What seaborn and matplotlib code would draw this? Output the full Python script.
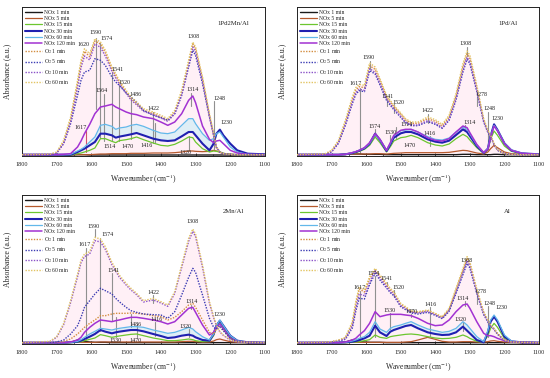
import matplotlib
matplotlib.use("Agg")
import matplotlib.pyplot as plt
import seaborn as sns
import pandas as pd
from matplotlib.ticker import MultipleLocator
from matplotlib.lines import Line2D

# ---------------- data (absorbance, a.u. x1000) ----------------
WN = [1800, 1720, 1700, 1680, 1660, 1640, 1630, 1620, 1605, 1590, 1574, 1560, 1541, 1530, 1520, 1500, 1486,
      1470, 1450, 1422, 1400, 1380, 1360, 1340, 1320, 1308, 1300, 1280, 1260, 1248, 1240, 1230, 1220, 1200,
      1180, 1150, 1100]

SERIES = ["NOx 1 min", "NOx 5 min", "NOx 15 min", "NOx 30 min", "NOx 60 min", "NOx 120 min",
          "O$_2$ 1 min", "O$_2$ 5 min", "O$_2$ 10 min", "O$_2$ 60 min"]
PANELS = ["1Pd2Mn/Al", "1Pd/Al", "2Mn/Al", "Al"]

# Panel 1: 1Pd2Mn/Al
p1_nox1 = [3, 3, 3, 3, 3, 4, 4, 4, 3, 3, 3, 3, 3, 3, 3, 3, 3, 3, 3, 3, 3, 3, 3, 3, 3, 3, 3, 3, 3, 3, 3, 3, 3, 3, 3, 3, 3]
p1_nox5 = [4, 4, 4, 4, 4, 4, 4, 4, 4, 5, 6, 6, 7, 7, 7, 7, 8, 8, 8, 9, 9, 9, 10, 12, 15, 15, 14, 13, 14, 17, 15, 12, 8, 5, 4, 4, 4]
p1_nox15 = [4, 4, 4, 4, 3, 7, 9, 12, 17, 24, 52, 52, 44, 40, 46, 49, 52, 57, 49, 39, 32, 30, 35, 45, 57, 55, 42, 22, 12, 15, 14, 12, 8, 5, 4, 4, 4]
p1_nox30 = [4, 4, 4, 4, 4, 12, 17, 22, 32, 42, 67, 67, 62, 55, 58, 62, 65, 69, 62, 52, 47, 45, 47, 59, 72, 72, 62, 37, 17, 37, 67, 79, 62, 37, 17, 7, 5]
p1_nox60 = [4, 4, 4, 4, 5, 15, 20, 27, 42, 57, 92, 95, 89, 80, 84, 87, 92, 95, 89, 77, 69, 67, 72, 92, 112, 112, 97, 67, 47, 52, 67, 72, 57, 27, 12, 5, 4]
p1_nox120 = [4, 4, 4, 5, 7, 27, 45, 67, 95, 127, 147, 150, 155, 147, 142, 132, 127, 124, 117, 112, 102, 92, 102, 127, 167, 180, 160, 90, 50, 40, 45, 47, 37, 17, 9, 5, 4]
p1_o2_1 = [4, 5, 10, 42, 110, 218, 278, 314, 298, 345, 336, 310, 262, 242, 222, 192, 172, 157, 137, 127, 117, 107, 131, 191, 280, 336, 321, 231, 122, 64, 26, 11, 7, 5, 4, 4, 4]
p1_o2_5 = [4, 4, 9, 37, 97, 182, 227, 252, 257, 292, 287, 272, 237, 222, 212, 189, 177, 162, 137, 122, 115, 107, 127, 182, 267, 317, 302, 217, 117, 62, 27, 12, 7, 5, 4, 4, 4]
p1_o2_10 = [4, 5, 9, 38, 102, 205, 265, 300, 288, 336, 326, 300, 254, 234, 216, 188, 168, 154, 134, 124, 114, 104, 127, 185, 272, 327, 312, 224, 118, 62, 25, 11, 7, 5, 4, 4, 4]
p1_o2_60 = [4, 5, 12, 47, 117, 227, 287, 322, 307, 352, 342, 317, 267, 247, 227, 197, 177, 162, 142, 132, 122, 112, 137, 197, 287, 342, 327, 237, 127, 67, 27, 12, 7, 5, 4, 4, 4]

# Panel 2: 1Pd/Al
p2_nox1 = [4, 4, 4, 4, 5, 6, 6, 6, 5, 5, 5, 5, 4, 4, 4, 4, 4, 4, 4, 4, 4, 4, 4, 4, 5, 5, 5, 4, 4, 4, 4, 5, 5, 4, 4, 4, 4]
p2_nox5 = [4, 4, 4, 4, 5, 6, 6, 6, 6, 6, 7, 7, 6, 7, 8, 9, 10, 10, 10, 10, 10, 10, 11, 14, 17, 16, 14, 9, 6, 12, 22, 32, 25, 12, 7, 5, 4]
p2_nox15 = [4, 4, 4, 4, 4, 8, 10, 14, 20, 32, 57, 40, 12, 28, 45, 55, 57, 62, 55, 40, 33, 30, 36, 52, 65, 58, 48, 25, 8, 18, 50, 75, 62, 30, 14, 7, 5]
p2_nox30 = [4, 4, 4, 4, 5, 9, 12, 16, 23, 37, 67, 48, 15, 35, 55, 68, 72, 72, 65, 50, 43, 40, 46, 63, 80, 72, 60, 30, 9, 22, 60, 95, 78, 38, 17, 8, 5]
p2_nox60 = [4, 4, 4, 4, 5, 10, 13, 17, 24, 38, 65, 48, 17, 38, 60, 76, 78, 80, 72, 58, 50, 48, 54, 72, 87, 80, 66, 33, 10, 22, 58, 92, 77, 38, 18, 8, 5]
p2_nox120 = [4, 4, 4, 4, 5, 10, 13, 17, 25, 40, 67, 50, 17, 40, 62, 77, 80, 80, 72, 55, 47, 45, 52, 72, 90, 85, 70, 35, 10, 20, 55, 90, 75, 37, 17, 8, 5]
p2_o2_1 = [4, 6, 15, 44, 102, 170, 198, 208, 205, 271, 260, 225, 177, 162, 148, 125, 108, 98, 98, 112, 104, 90, 117, 180, 268, 306, 293, 205, 108, 74, 60, 36, 18, 7, 5, 4, 4]
p2_o2_5 = [4, 5, 12, 38, 92, 157, 185, 196, 193, 256, 246, 213, 167, 152, 139, 116, 100, 91, 91, 103, 95, 83, 107, 168, 252, 290, 277, 194, 102, 71, 57, 34, 17, 7, 5, 4, 4]
p2_o2_10 = [4, 5, 13, 40, 96, 162, 190, 200, 197, 262, 251, 218, 171, 156, 142, 119, 102, 93, 93, 106, 98, 85, 110, 172, 258, 296, 283, 198, 104, 72, 58, 35, 18, 7, 5, 4, 4]
p2_o2_60 = [4, 6, 17, 47, 107, 177, 205, 215, 212, 279, 267, 232, 182, 167, 152, 129, 112, 102, 102, 117, 109, 95, 122, 187, 277, 315, 302, 212, 112, 77, 62, 37, 19, 7, 5, 4, 4]

# Panel 3: 2Mn/Al
p3_nox1 = [4, 4, 4, 4, 5, 12, 10, 8, 6, 5, 5, 5, 4, 4, 4, 4, 4, 4, 4, 4, 4, 4, 4, 4, 4, 4, 4, 4, 4, 4, 4, 4, 4, 4, 4, 4, 4]
p3_nox5 = [4, 4, 4, 4, 5, 5, 5, 5, 5, 5, 6, 6, 6, 6, 6, 6, 6, 6, 6, 6, 6, 6, 6, 7, 8, 8, 7, 6, 6, 9, 13, 15, 12, 7, 5, 4, 4]
p3_nox15 = [4, 4, 4, 4, 4, 5, 7, 10, 14, 18, 28, 25, 20, 22, 24, 27, 29, 30, 25, 18, 14, 10, 10, 12, 15, 13, 10, 7, 8, 25, 50, 62, 48, 20, 8, 5, 4]
p3_nox30 = [4, 4, 4, 4, 5, 7, 10, 15, 22, 30, 42, 37, 32, 35, 37, 40, 42, 42, 38, 30, 24, 18, 20, 25, 28, 25, 20, 12, 10, 30, 55, 70, 55, 25, 10, 5, 4]
p3_nox60 = [4, 4, 4, 4, 5, 8, 13, 20, 30, 38, 47, 45, 42, 45, 47, 50, 52, 52, 50, 42, 37, 32, 35, 42, 50, 45, 37, 22, 12, 30, 55, 72, 55, 25, 10, 5, 4]
p3_nox120 = [4, 4, 4, 4, 6, 12, 20, 35, 50, 62, 72, 70, 67, 70, 72, 77, 80, 80, 77, 72, 67, 60, 67, 87, 107, 110, 95, 57, 27, 35, 50, 60, 45, 17, 8, 5, 4]
p3_o2_1 = [4, 4, 5, 8, 15, 30, 40, 50, 62, 72, 85, 85, 90, 92, 92, 92, 93, 92, 90, 85, 82, 72, 80, 97, 117, 122, 110, 72, 35, 30, 45, 50, 40, 17, 8, 5, 4]
p3_o2_5 = [4, 4, 6, 12, 30, 55, 80, 110, 130, 150, 167, 160, 150, 137, 127, 110, 100, 95, 90, 88, 87, 77, 97, 147, 200, 227, 215, 147, 77, 50, 45, 55, 40, 17, 8, 5, 4]
p3_o2_10 = [4, 7, 20, 58, 124, 202, 244, 262, 270, 310, 306, 284, 238, 219, 201, 177, 162, 148, 126, 132, 123, 113, 152, 230, 308, 338, 322, 230, 122, 79, 55, 36, 26, 11, 6, 5, 4]
p3_o2_60 = [4, 8, 22, 62, 130, 210, 252, 270, 277, 320, 315, 292, 245, 225, 207, 182, 167, 152, 130, 137, 127, 117, 157, 237, 317, 345, 330, 237, 127, 82, 57, 37, 27, 12, 7, 5, 4]

# Panel 4: Al
p4_nox1 = [4, 4, 4, 4, 6, 12, 10, 8, 6, 5, 5, 5, 4, 4, 4, 4, 4, 4, 4, 4, 4, 4, 4, 4, 4, 4, 4, 4, 4, 4, 4, 4, 4, 4, 4, 4, 4]
p4_nox5 = [4, 4, 4, 4, 4, 5, 5, 5, 5, 5, 5, 5, 5, 5, 5, 5, 6, 7, 12, 20, 14, 8, 6, 6, 7, 7, 7, 6, 6, 7, 9, 10, 8, 6, 5, 4, 4]
p4_nox15 = [4, 4, 4, 4, 4, 5, 6, 7, 10, 13, 27, 20, 17, 22, 24, 27, 29, 30, 28, 22, 18, 16, 17, 20, 27, 22, 17, 8, 5, 25, 47, 62, 50, 17, 7, 5, 4]
p4_nox30 = [4, 4, 4, 4, 5, 7, 9, 12, 17, 25, 55, 35, 24, 37, 42, 49, 54, 57, 47, 35, 30, 27, 28, 35, 52, 40, 32, 12, 5, 35, 67, 82, 67, 22, 8, 5, 4]
p4_nox60 = [4, 4, 4, 4, 5, 9, 12, 17, 22, 35, 67, 45, 35, 47, 52, 57, 62, 67, 57, 45, 40, 35, 38, 47, 67, 57, 47, 22, 7, 40, 72, 87, 72, 27, 9, 5, 4]
p4_nox120 = [4, 4, 4, 4, 6, 12, 17, 27, 40, 62, 97, 82, 87, 89, 89, 89, 87, 85, 77, 62, 55, 57, 72, 97, 117, 120, 107, 67, 32, 25, 25, 22, 17, 10, 6, 5, 4]
p4_o2_1 = [4, 5, 7, 11, 18, 62, 120, 165, 156, 196, 222, 202, 178, 163, 153, 119, 109, 98, 95, 100, 90, 80, 104, 162, 221, 256, 241, 160, 94, 70, 55, 46, 31, 12, 6, 5, 4]
p4_o2_5 = [4, 4, 6, 9, 14, 48, 98, 137, 135, 178, 212, 192, 168, 154, 145, 112, 103, 93, 90, 95, 86, 76, 98, 152, 208, 242, 228, 152, 88, 66, 53, 44, 29, 11, 6, 5, 4]
p4_o2_10 = [4, 5, 6, 10, 16, 55, 108, 150, 145, 185, 220, 198, 172, 158, 148, 115, 106, 96, 93, 98, 88, 78, 101, 157, 215, 250, 235, 156, 91, 68, 54, 45, 30, 11, 6, 5, 4]
p4_o2_60 = [4, 5, 7, 12, 20, 67, 127, 172, 162, 202, 227, 207, 182, 167, 157, 122, 112, 100, 97, 102, 92, 82, 107, 167, 227, 262, 247, 165, 97, 72, 57, 47, 32, 12, 6, 5, 4]

PANEL_DATA = [
    [p1_nox1, p1_nox5, p1_nox15, p1_nox30, p1_nox60, p1_nox120, p1_o2_1, p1_o2_5, p1_o2_10, p1_o2_60],
    [p2_nox1, p2_nox5, p2_nox15, p2_nox30, p2_nox60, p2_nox120, p2_o2_1, p2_o2_5, p2_o2_10, p2_o2_60],
    [p3_nox1, p3_nox5, p3_nox15, p3_nox30, p3_nox60, p3_nox120, p3_o2_1, p3_o2_5, p3_o2_10, p3_o2_60],
    [p4_nox1, p4_nox5, p4_nox15, p4_nox30, p4_nox60, p4_nox120, p4_o2_1, p4_o2_5, p4_o2_10, p4_o2_60],
]

# peak labels: (text, text_x, text_y, line_x, line_top, line_bottom)
ANN1 = [("1620", 1622, 335, None, 0, 0), ("1590", 1588, 370, 1588, 355, 140), ("1574", 1556, 352, 1574, 340, 55),
        ("1541", 1526, 259, 1541, 252, 45), ("1520", 1506, 220, 1520, 212, 45), ("1486", 1472, 184, 1486, 176, 50),
        ("1422", 1422, 142, 1422, 132, 40), ("1308", 1307, 358, None, 0, 0), ("1314", 1308, 200, 1314, 190, 150),
        ("1248", 1232, 172, 1248, 165, 20), ("1230", 1210, 100, None, 0, 0), ("1617", 1632, 85, 1617, 75, 12),
        ("1564", 1572, 197, 1564, 186, 45), ("1514", 1548, 28, None, 0, 0), ("1470", 1495, 28, None, 0, 0),
        ("1416", 1440, 32, 1416, 100, 40), ("1320", 1330, 12, 1320, 60, 15)]
ANN2 = [("1617", 1630, 217, 1617, 205, 10), ("1590", 1592, 295, 1590, 286, 262), ("1541", 1539, 180, 1541, 172, 150),
        ("1520", 1506, 162, 1520, 155, 130), ("1422", 1422, 137, 1422, 127, 100), ("1308", 1313, 337, 1308, 327, 300),
        ("1278", 1266, 185, 1278, 178, 150), ("1248", 1244, 142, 1248, 133, 20), ("1230", 1220, 112, None, 0, 0),
        ("1574", 1575, 87, 1574, 80, 60), ("1530", 1529, 72, 1530, 64, 30), ("1514", 1484, 95, 1514, 88, 55),
        ("1470", 1474, 32, 1470, 40, 38), ("1416", 1417, 67, 1416, 60, 30), ("1314", 1300, 100, 1314, 93, 80)]
ANN3 = [("1617", 1619, 297, 1617, 287, 15), ("1590", 1593, 352, 1590, 344, 322), ("1574", 1554, 327, 1574, 318, 40),
        ("1541", 1537, 222, 1541, 214, 70), ("1422", 1422, 155, 1422, 146, 122), ("1308", 1308, 367, None, 0, 0),
        ("1314", 1311, 127, 1314, 118, 105), ("1230", 1230, 87, None, 0, 0), ("1486", 1473, 57, 1486, 90, 52),
        ("1416", 1412, 74, 1416, 66, 25), ("1320", 1330, 52, 1320, 44, 20), ("1530", 1532, 12, 1530, 80, 20),
        ("1470", 1472, 12, 1470, 60, 20)]
ANN4 = [("1617", 1619, 170, 1617, 160, 5), ("1574", 1578, 212, 1574, 204, 20), ("1541", 1542, 195, 1541, 187, 175),
        ("1520", 1508, 169, 1520, 162, 140), ("1530", 1532, 102, 1530, 94, 45), ("1470", 1468, 97, 1470, 90, 80),
        ("1416", 1415, 117, 1416, 110, 25), ("1308", 1311, 252, None, 0, 0), ("1314", 1321, 137, 1314, 129, 115),
        ("1320", 1326, 74, 1320, 67, 40), ("1278", 1268, 157, 1278, 150, 120), ("1248", 1244, 122, 1248, 115, 20),
        ("1230", 1210, 109, None, 0, 0)]
ANNS = [ANN1, ANN2, ANN3, ANN4]

# ---------------- style ----------------
COLORS = ["#1a1a1a", "#b5592d", "#6cc62f", "#2020b0", "#62b8ea", "#a232d2",
          "#d38d3f", "#3c3cb4", "#8a52c8", "#e2c462"]
WIDTHS = [1.0, 0.9, 0.9, 1.5, 0.9, 1.1, 1.0, 1.0, 1.0, 1.0]
STYLES = ["-"] * 6 + [(0, (1, 1))] * 4

sns.set_style("ticks")
plt.rcParams["font.family"] = ["Liberation Serif", "DejaVu Serif"]
plt.rcParams["mathtext.fontset"] = "stix"

fig = plt.figure(figsize=(5.5, 3.78), dpi=100)
W, H = 550.0, 378.0
boxes = [(22, 7, 265, 156), (297, 7, 539, 156), (22, 195, 265, 344), (297, 195, 539, 344)]

for p, (x0, y0, x1, y1) in enumerate(boxes):
    ax = fig.add_axes([x0 / W, 1 - y1 / H, (x1 - x0) / W, (y1 - y0) / H])
    data = PANEL_DATA[p]
    # light shading under the spectra
    ax.fill_between(WN, 3, data[9], color="#ffd6e6", alpha=0.35, lw=0, zorder=0)
    ax.fill_between(WN, data[3], data[4], color="#b8ecf6", alpha=0.45, lw=0, zorder=0)
    # annotation lines
    for (t, tx, ty, lx, ltop, lbot) in ANNS[p]:
        if lx is not None:
            col = "#d05070" if (p == 0 and t == "1617") else "#909090"
            ax.plot([lx, lx], [lbot, ltop], color=col, lw=0.8, zorder=1)
    for i in range(10):
        df = pd.DataFrame({"wn": WN, "abs": data[i]})
        sns.lineplot(data=df, x="wn", y="abs", ax=ax, color=COLORS[i], lw=WIDTHS[i],
                     linestyle=STYLES[i], sort=False, estimator=None, zorder=2 + i * 0.1)
    for (t, tx, ty, lx, ltop, lbot) in ANNS[p]:
        ax.text(tx, ty, t, fontsize=4.3, ha="center", va="center", color="#222222", zorder=5)
    ax.set_xlim(1800, 1100)
    ax.set_ylim(0, 447)
    ax.set_yticks([])
    ax.xaxis.set_major_locator(MultipleLocator(100))
    ax.xaxis.set_minor_locator(MultipleLocator(50))
    ax.tick_params(axis="x", which="major", direction="in", length=2.5, width=0.6, labelsize=4.4, pad=4.5)
    ax.tick_params(axis="x", which="minor", direction="in", length=1.5, width=0.5)
    for s in ax.spines.values():
        s.set_linewidth(0.7)
        s.set_color("#222222")
    ax.set_xlabel("Wavenumber (cm$^{-1}$)", fontsize=5.6, labelpad=4)
    ax.set_ylabel("Absorbance (a.u.)", fontsize=5.6)
    ax.yaxis.set_label_coords(-0.045, 0.57)
    ax.text(0.87, 0.89, PANELS[p], transform=ax.transAxes, fontsize=4.9, ha="center", va="center")
    handles = [Line2D([], [], color=COLORS[i], lw=WIDTHS[i], linestyle=STYLES[i]) for i in range(10)]
    ax.legend(handles, SERIES, loc="upper left", frameon=False, fontsize=4.1, handlelength=3.0,
              labelspacing=0.22, borderaxespad=0.3, handletextpad=0.4, borderpad=0.2)

fig.savefig("out.png", dpi=100)
